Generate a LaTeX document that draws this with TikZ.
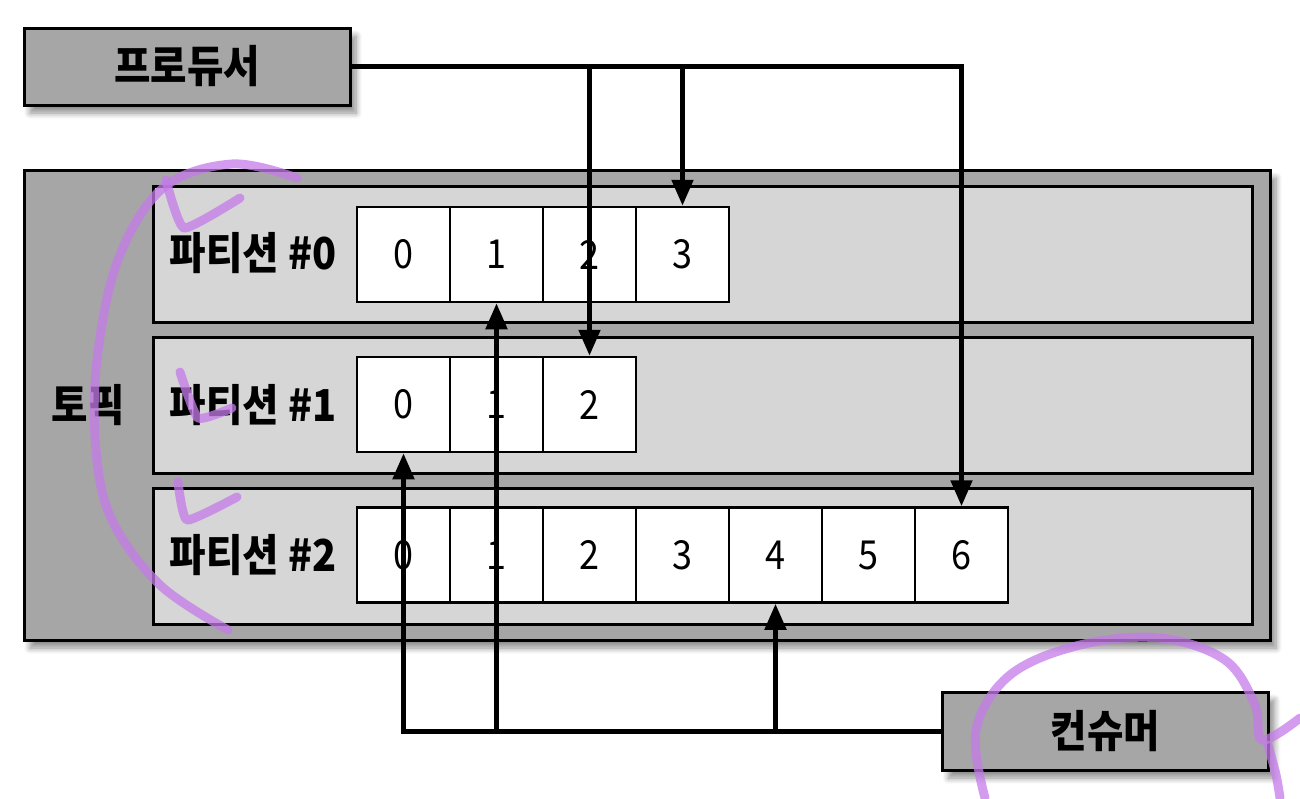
\documentclass[tikz,border=0pt]{standalone}
\usepackage{fontspec}
\setmainfont{Noto Sans CJK KR}
\newfontfamily\krfont[FakeStretch=0.9]{Noto Sans CJK KR}
\usetikzlibrary{arrows.meta,shadows.blur}
\definecolor{boxgray}{HTML}{A6A6A6}
\definecolor{rowgray}{HTML}{D6D6D6}
\definecolor{marker}{HTML}{C57BEA}
\tikzset{
  graybox/.style={draw=black, line width=3pt, fill=boxgray, inner sep=0pt,
    blur shadow={shadow xshift=6pt, shadow yshift=-8pt, shadow blur radius=6pt, shadow blur steps=8, shadow opacity=45}},
  rowbox/.style={draw=black, line width=3pt, fill=rowgray, minimum width=1099pt, minimum height=136pt, inner sep=0pt},
  cell/.style={draw=black, line width=2.5pt, fill=white, minimum width=93pt, minimum height=95pt, inner sep=0pt, font=\krfont\fontsize{40}{44}\selectfont},
  lbl/.style={font=\krfont\fontsize{44}{48}\selectfont\bfseries, inner sep=0pt},
  wire/.style={line width=5pt, draw=black},
  arr/.style={wire, -{Triangle[width=21pt,length=26pt]}},
  pen/.style={draw=marker, line width=9pt, opacity=0.75, line cap=round, line join=round}
}
\begin{document}
\begin{tikzpicture}[x=1pt,y=-1pt]
\useasboundingbox (0,0) rectangle (1300,798);
% producer / consumer
\node[graybox, minimum width=326pt, minimum height=77pt, font=\krfont\fontsize{44}{48}\selectfont\bfseries] (prod) at (187,66.5) {프로듀서};
\node[graybox, minimum width=326pt, minimum height=78pt, font=\krfont\fontsize{44}{48}\selectfont\bfseries] (cons) at (1105.5,731) {컨슈머};
% topic
\node[graybox, minimum width=1246pt, minimum height=470pt] (topic) at (647,405) {};
\node[lbl] (topiclbl) at (88,405) {토픽};
% rows
\node[rowbox] (r0) at (702.5,254) {};
\node[rowbox] (r1) at (702.5,405) {};
\node[rowbox] (r2) at (702.5,556) {};
\node[lbl] (l0) at (253,253) {파티션 \#0};
\node[lbl] (l1) at (253,405) {파티션 \#1};
\node[lbl] (l2) at (253,555) {파티션 \#2};
% cells
\foreach \i in {0,...,3} \node[cell] (c0-\i) at (403.5+93*\i,254.5) {\i};
\foreach \i in {0,...,2} \node[cell] (c1-\i) at (403.5+93*\i,404.5) {\i};
\foreach \i in {0,...,6} \node[cell] (c2-\i) at (403.5+93*\i,555) {\i};
% producer connectors
\draw[arr] (prod.east) -| (c2-6.north);
\draw[arr] (c1-2.north |- prod.east) -- (c1-2.north);
\draw[arr] (c0-3.north |- prod.east) -- (c0-3.north);
% consumer connectors
\draw[arr] (cons.west) -| (c1-0.south);
\draw[arr] (c0-1.south |- cons.west) -- (c0-1.south);
\draw[arr] (c2-4.south |- cons.west) -- (c2-4.south);
% hand-drawn marker annotations
\draw[pen] plot[smooth, tension=0.6] coordinates {(297,178) (232,164) (163,188) (118,260) (97,360) (96,450) (112,520) (160,585) (228,630)};
\draw[pen] plot[smooth, tension=0.3] coordinates {(166,180) (184,228) (240,198)};
\draw[pen] plot[smooth, tension=0.3] coordinates {(180,372) (198,418) (232,408)};
\draw[pen] plot[smooth, tension=0.3] coordinates {(178,482) (187,520) (237,497)};
\draw[pen] plot[smooth, tension=0.6] coordinates {(985,798) (976,730) (1010,675) (1080,645) (1160,638) (1225,660) (1255,705) (1262,740) (1300,718)};
\draw[pen] plot[smooth, tension=0.6] coordinates {(1268,745) (1276,775) (1280,798)};
\end{tikzpicture}
\end{document}
